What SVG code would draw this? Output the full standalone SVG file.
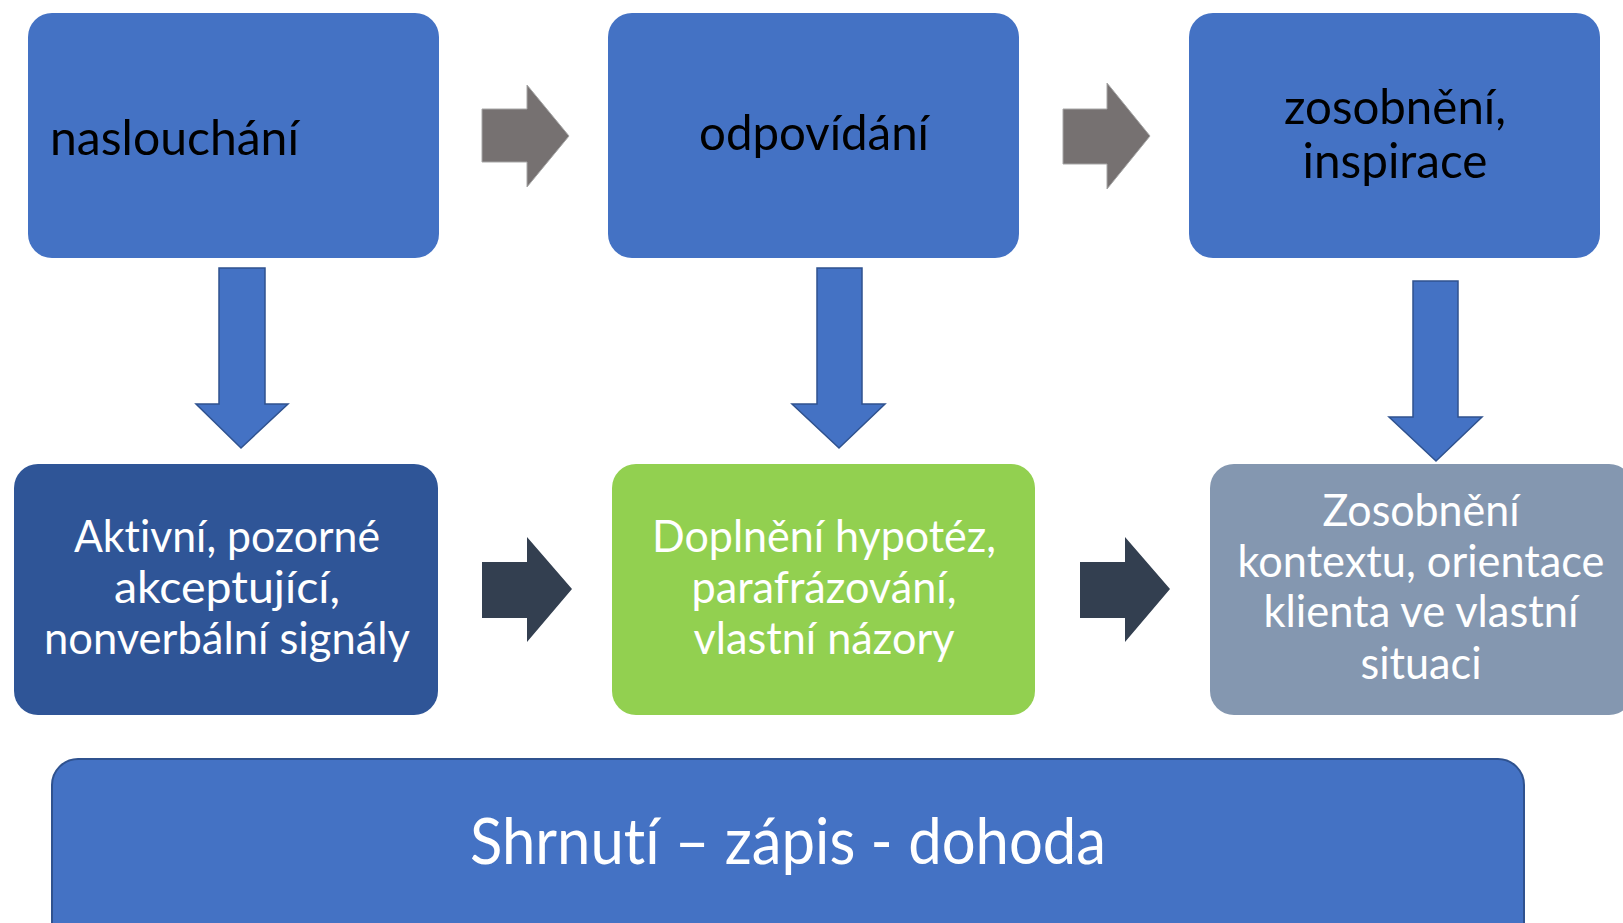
<svg xmlns="http://www.w3.org/2000/svg" width="1623" height="923" viewBox="0 0 1623 923">
<style>
.top{fill:#4472C4}
.t{font-family:Lato,"Open Sans","Liberation Sans",sans-serif;font-variant-ligatures:none;}
.blk{fill:#000000;font-size:49px}
.wht{fill:#FFFFFF;font-size:45px}
.mid{text-anchor:middle}
.garrow{fill:#767171;stroke:#A6A6A6;stroke-width:1}
.darrow{fill:#333F50}
.varrow{fill:#4472C4;stroke:#2F528F;stroke-width:1.5}
</style>
<rect width="1623" height="923" fill="#FFFFFF"/>
<g id="connectors">
<path class="garrow" d="M482,109 H527 V85 L569,136 L527,187 V162 H482 Z"/>
<path class="garrow" d="M1063,109 H1107 V83 L1150,136 L1107,189 V164 H1063 Z"/>
<path class="varrow" d="M219,268 H265 V404 H288 L241,448 L196,404 H219 Z"/>
<path class="varrow" d="M817,268 H862 V404 H885 L839,448 L792,404 H817 Z"/>
<path class="varrow" d="M1413,281 H1458 V417 H1482 L1436,461 L1389,417 H1413 Z"/>
<path class="darrow" d="M482,562 H527 V537 L572,589 L527,642 V618 H482 Z"/>
<path class="darrow" d="M1080,562 H1125 V537 L1170,589 L1125,642 V618 H1080 Z"/>
</g>
<g id="n1">
<rect class="top" x="28" y="13" width="411" height="245" rx="24"/>
<text class="t blk" x="50" y="155" textLength="249" lengthAdjust="spacingAndGlyphs">naslouchání</text>
</g>
<g id="n2">
<rect class="top" x="608" y="13" width="411" height="245" rx="24"/>
<text class="t blk mid" x="814" y="150" textLength="230" lengthAdjust="spacingAndGlyphs">odpovídání</text>
</g>
<g id="n3">
<rect class="top" x="1189" y="13" width="411" height="245" rx="24"/>
<text class="t blk mid" x="1395" y="124" textLength="222" lengthAdjust="spacingAndGlyphs">zosobnění,</text>
<text class="t blk mid" x="1395" y="178" textLength="185" lengthAdjust="spacingAndGlyphs">inspirace</text>
</g>
<g id="n4">
<rect x="14" y="464" width="424" height="251" rx="24" fill="#2F5597"/>
<text class="t wht mid" x="227" y="552" textLength="306" lengthAdjust="spacingAndGlyphs">Aktivní, pozorné</text>
<text class="t wht mid" x="227" y="603" textLength="226" lengthAdjust="spacingAndGlyphs">akceptující,</text>
<text class="t wht mid" x="227" y="654" textLength="366" lengthAdjust="spacingAndGlyphs">nonverbální signály</text>
</g>
<g id="n5">
<rect x="612" y="464" width="423" height="251" rx="24" fill="#92D050"/>
<text class="t wht mid" x="824" y="552" textLength="344" lengthAdjust="spacingAndGlyphs">Doplnění hypotéz,</text>
<text class="t wht mid" x="824" y="603" textLength="265" lengthAdjust="spacingAndGlyphs">parafrázování,</text>
<text class="t wht mid" x="824" y="654" textLength="261" lengthAdjust="spacingAndGlyphs">vlastní názory</text>
</g>
<g id="n6">
<rect x="1210" y="464" width="423" height="251" rx="24" fill="#8497B0"/>
<text class="t wht mid" x="1421" y="526" textLength="197" lengthAdjust="spacingAndGlyphs">Zosobnění</text>
<text class="t wht mid" x="1421" y="577" textLength="367" lengthAdjust="spacingAndGlyphs">kontextu, orientace</text>
<text class="t wht mid" x="1421" y="627" textLength="315" lengthAdjust="spacingAndGlyphs">klienta ve vlastní</text>
<text class="t wht mid" x="1421" y="679" textLength="121" lengthAdjust="spacingAndGlyphs">situaci</text>
</g>
<g id="n7">
<rect x="52" y="759" width="1472" height="200" rx="26" fill="#4472C4" stroke="#2F528F" stroke-width="2"/>
<text class="t mid" x="788" y="864" fill="#FFFFFF" font-size="64" textLength="636" lengthAdjust="spacingAndGlyphs">Shrnutí – zápis - dohoda</text>
</g>
</svg>
